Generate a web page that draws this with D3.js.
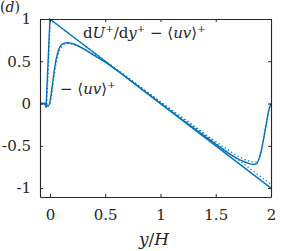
<!DOCTYPE html>
<html>
<head>
<meta charset="utf-8">
<script src="https://cdn.jsdelivr.net/npm/d3@7"></script>
<style>
body { margin: 0; background: #fff; }
svg text { font-family: "DejaVu Serif", serif; }
</style>
</head>
<body>
<div id="chart"></div>
<script>
// total stress, case 1 (solid) and case 2 (dotted)
var totalSolidX = [-0.09, -0.045, -0.035, 0, 2];
var totalSolidY = [0, 0, -0.05, 1, -1];
var totalDotX = [-0.09, -0.045, -0.03, 0.003, 2];
var totalDotY = [0, 0, -0.04, 0.99, -0.955];

// Reynolds shear stress -<uv>+
var uvSolidX = [-0.09, -0.04, -0.03, -0.015, 0, 0.02, 0.04, 0.06, 0.08, 0.1, 0.13, 0.16, 0.2, 0.3, 0.4, 0.5, 0.7, 1.0, 1.3, 1.5, 1.6, 1.7, 1.78, 1.84, 1.87, 1.89, 1.91, 1.93, 1.96, 1.98, 2.0];
var uvSolidY = [0, 0, -0.02, -0.03, 0.02, 0.2, 0.4, 0.55, 0.64, 0.69, 0.715, 0.72, 0.71, 0.65, 0.57, 0.49, 0.3, 0, -0.29, -0.48, -0.575, -0.655, -0.70, -0.72, -0.71, -0.66, -0.57, -0.44, -0.22, -0.08, 0];
var uvDotX = [-0.09, -0.04, -0.02, 0.0, 0.02, 0.04, 0.06, 0.08, 0.1, 0.13, 0.17, 0.2, 0.3, 0.5, 0.7, 1.0, 1.3, 1.5, 1.6, 1.7, 1.78, 1.84, 1.87, 1.89, 1.91, 1.93, 1.96, 1.98, 2.0];
var uvDotY = [0, 0, -0.02, 0.0, 0.15, 0.35, 0.5, 0.6, 0.66, 0.7, 0.71, 0.705, 0.65, 0.495, 0.31, 0.02, -0.26, -0.45, -0.54, -0.62, -0.67, -0.69, -0.69, -0.66, -0.57, -0.44, -0.22, -0.08, 0];

var xTicks = [0, 0.5, 1, 1.5, 2];
var xTickLabels = ["0", "0.5", "1", "1.5", "2"];
var yTicks = [-1, -0.5, 0, 0.5, 1];
var yTickLabels = ["-1", "-0.5", "0", "0.5", "1"];

var blue = "#0072BD";
var ink = "#262626";
var W = 300, H = 251;
var L = 40, R = 271, T = 19, B = 197;

var x = d3.scaleLinear().domain([-0.09, 2]).range([L, R]);
var y = d3.scaleLinear().domain([-1.105, 1]).range([B, T]);

var svg = d3.select("#chart").append("svg")
    .attr("width", W)
    .attr("height", H);

function pts(xs, ys) { return xs.map(function(d, i) { return [d, ys[i]]; }); }

svg.append("clipPath").attr("id", "clip")
    .append("rect").attr("x", L).attr("y", T - 2).attr("width", R - L + 1).attr("height", B - T + 2);

var lin = d3.line().x(function(d) { return x(d[0]); }).y(function(d) { return y(d[1]); });
var smooth = d3.line().curve(d3.curveMonotoneX).x(function(d) { return x(d[0]); }).y(function(d) { return y(d[1]); });

var lines = svg.append("g").attr("clip-path", "url(#clip)");
lines.append("path").attr("d", lin(pts(totalDotX, totalDotY)))
    .attr("fill", "none").attr("stroke", blue).attr("stroke-width", 1.3).attr("stroke-dasharray", "1.2,2.6");
lines.append("path").attr("d", smooth(pts(uvDotX, uvDotY)))
    .attr("fill", "none").attr("stroke", blue).attr("stroke-width", 1.3).attr("stroke-dasharray", "1.2,2.6");
lines.append("path").attr("d", lin(pts(totalSolidX, totalSolidY)))
    .attr("fill", "none").attr("stroke", blue).attr("stroke-width", 1.4);
lines.append("path").attr("d", smooth(pts(uvSolidX, uvSolidY)))
    .attr("fill", "none").attr("stroke", blue).attr("stroke-width", 1.4);

// axes box with inward ticks
var axBottom = d3.axisBottom(x).tickValues(xTicks).tickSizeInner(-3).tickSizeOuter(0)
    .tickFormat(function(d, i) { return xTickLabels[i]; }).tickPadding(12);
var axTop = d3.axisTop(x).tickValues(xTicks).tickSizeInner(-3).tickSizeOuter(0).tickFormat("");
var axLeft = d3.axisLeft(y).tickValues(yTicks).tickSizeInner(-3).tickSizeOuter(0)
    .tickFormat(function(d, i) { return yTickLabels[i]; }).tickPadding(9);
var axRight = d3.axisRight(y).tickValues(yTicks).tickSizeInner(-3).tickSizeOuter(0).tickFormat("");

svg.append("g").attr("transform", "translate(0," + B + ")").call(axBottom);
svg.append("g").attr("transform", "translate(0," + T + ")").call(axTop);
svg.append("g").attr("transform", "translate(" + L + ",0)").call(axLeft);
svg.append("g").attr("transform", "translate(" + R + ",0)").call(axRight);

svg.selectAll(".domain").attr("stroke", ink).attr("stroke-width", 1.1);
svg.selectAll(".tick line").attr("stroke", ink);
svg.selectAll(".tick text").attr("font-size", 15).attr("fill", ink);

// labels
function label(xp, yp, size) {
    return svg.append("text").attr("x", xp).attr("y", yp).attr("font-size", size)
        .attr("fill", ink);
}

var tag = label(0, 12, 14);
tag.append("tspan").text("(");
tag.append("tspan").attr("font-style", "italic").text("d");
tag.append("tspan").text(")");

var t1 = label(83, 38, 15);
t1.append("tspan").text("d");
t1.append("tspan").attr("font-style", "italic").text("U");
t1.append("tspan").attr("font-size", 10).attr("dy", -6).text("+");
t1.append("tspan").attr("dy", 6).text("/d");
t1.append("tspan").attr("font-style", "italic").text("y");
t1.append("tspan").attr("font-size", 10).attr("dy", -6).text("+");
t1.append("tspan").attr("dy", 6).text(" \u2212 \u27E8");
t1.append("tspan").attr("font-style", "italic").text("uv");
t1.append("tspan").text("\u27E9");
t1.append("tspan").attr("font-size", 10).attr("dy", -6).text("+");

var t2 = label(60, 94, 15);
t2.append("tspan").text("\u2212 \u27E8");
t2.append("tspan").attr("font-style", "italic").text("uv");
t2.append("tspan").text("\u27E9");
t2.append("tspan").attr("font-size", 10).attr("dy", -6).text("+");

var t3 = label(154, 245, 17).attr("text-anchor", "middle");
t3.append("tspan").attr("font-style", "italic").text("y");
t3.append("tspan").text("/");
t3.append("tspan").attr("font-style", "italic").text("H");
</script>
</body>
</html>
